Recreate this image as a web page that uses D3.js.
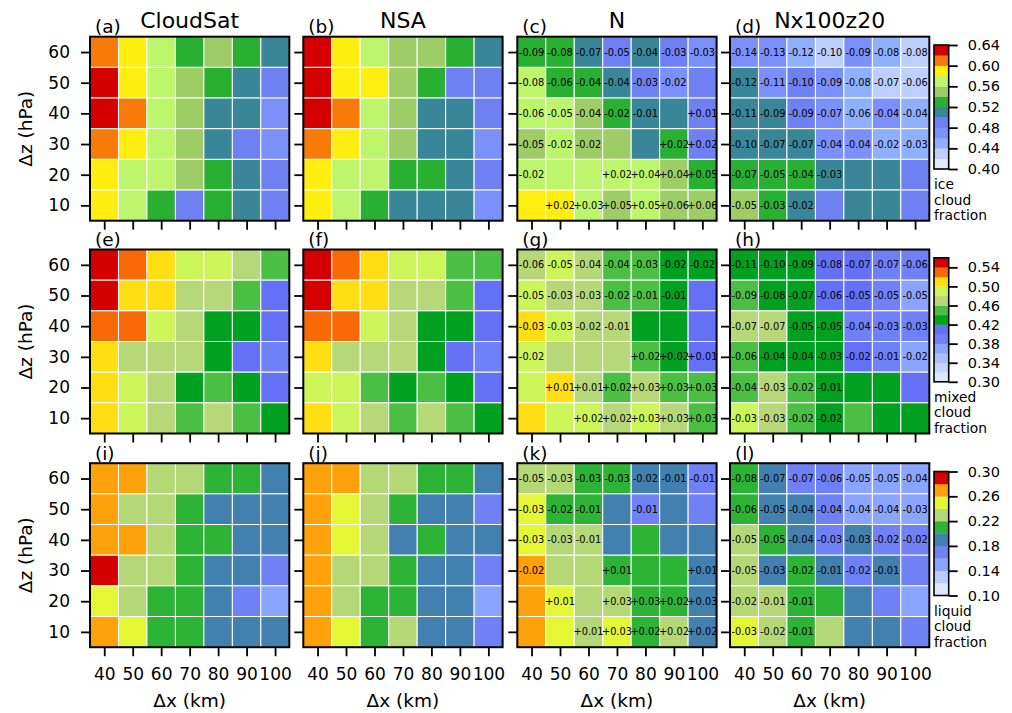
<!DOCTYPE html>
<html>
<head>
<meta charset="utf-8">
<script src="https://cdn.jsdelivr.net/npm/d3@7"></script>
<style>
  body { margin: 0; background: #fff; }
  svg { display: block; font-family: "DejaVu Sans", sans-serif; }
</style>
</head>
<body>
<svg id="chart" width="1012" height="713"></svg>
<script>
// Grid coordinates
const dxValues = [40, 50, 60, 70, 80, 90, 100];      // km, columns
const dzValues = [60, 50, 40, 30, 20, 10];           // hPa, rows from top

const panelTitles = ["CloudSat", "NSA", "N", "Nx100z20"];
const panelTags = [["(a)", "(b)", "(c)", "(d)"], ["(e)", "(f)", "(g)", "(h)"], ["(i)", "(j)", "(k)", "(l)"]];

// ---------- ice cloud fraction ----------
const iceCloudSat = [
  [0.61, 0.59, 0.57, 0.53, 0.55, 0.53, 0.51],
  [0.63, 0.59, 0.57, 0.55, 0.53, 0.51, 0.49],
  [0.63, 0.61, 0.57, 0.55, 0.51, 0.51, 0.47],
  [0.61, 0.59, 0.57, 0.55, 0.51, 0.49, 0.47],
  [0.59, 0.57, 0.57, 0.55, 0.53, 0.51, 0.49],
  [0.59, 0.57, 0.53, 0.49, 0.53, 0.51, 0.49]
];
const iceNSA = [
  [0.63, 0.59, 0.57, 0.55, 0.55, 0.53, 0.51],
  [0.63, 0.59, 0.59, 0.55, 0.53, 0.49, 0.49],
  [0.63, 0.61, 0.57, 0.55, 0.51, 0.51, 0.49],
  [0.61, 0.59, 0.57, 0.55, 0.51, 0.51, 0.47],
  [0.59, 0.57, 0.57, 0.53, 0.53, 0.51, 0.49],
  [0.59, 0.57, 0.53, 0.51, 0.51, 0.51, 0.47]
];
const iceN = [
  [0.53, 0.53, 0.51, 0.49, 0.51, 0.49, 0.47],
  [0.57, 0.53, 0.53, 0.51, 0.49, 0.47, 0.49],
  [0.57, 0.57, 0.55, 0.53, 0.51, 0.51, 0.49],
  [0.55, 0.57, 0.55, 0.55, 0.51, 0.53, 0.49],
  [0.57, 0.57, 0.57, 0.57, 0.57, 0.55, 0.53],
  [0.59, 0.59, 0.57, 0.55, 0.57, 0.55, 0.55]
];
const iceNx100z20 = [
  [0.47, 0.47, 0.45, 0.43, 0.47, 0.45, 0.43],
  [0.51, 0.47, 0.49, 0.47, 0.45, 0.43, 0.43],
  [0.51, 0.51, 0.49, 0.47, 0.45, 0.47, 0.45],
  [0.51, 0.51, 0.51, 0.47, 0.47, 0.45, 0.45],
  [0.53, 0.53, 0.53, 0.51, 0.51, 0.51, 0.49],
  [0.55, 0.53, 0.51, 0.49, 0.51, 0.51, 0.49]
];
// differences from CloudSat written in the cells (null = no label)
const iceNDiff = [
  [-0.09, -0.08, -0.07, -0.05, -0.04, -0.03, -0.03],
  [-0.08, -0.06, -0.04, -0.04, -0.03, -0.02, null],
  [-0.06, -0.05, -0.04, -0.02, -0.01, null, 0.01],
  [-0.05, -0.02, -0.02, null, null, 0.02, 0.02],
  [-0.02, null, null, 0.02, 0.04, 0.04, 0.05],
  [null, 0.02, 0.03, 0.05, 0.05, 0.06, 0.06]
];
const iceNx100z20Diff = [
  [-0.14, -0.13, -0.12, -0.10, -0.09, -0.08, -0.08],
  [-0.12, -0.11, -0.10, -0.09, -0.08, -0.07, -0.06],
  [-0.11, -0.09, -0.09, -0.07, -0.06, -0.04, -0.04],
  [-0.10, -0.07, -0.07, -0.04, -0.04, -0.02, -0.03],
  [-0.07, -0.05, -0.04, -0.03, null, null, null],
  [-0.05, -0.03, -0.02, null, null, null, null]
];
const iceColors = ["#dfe9ff", "#bccfff", "#8eb0ff", "#7b90fa", "#6f80f2", "#398699",
                   "#29b033", "#9ecc66", "#bdf56c", "#ffee10", "#f77b08", "#d40000"];
const iceRange = [0.40, 0.64];
const iceTicks = [0.40, 0.44, 0.48, 0.52, 0.56, 0.60, 0.64];

// ---------- mixed cloud fraction ----------
const mixedCloudSat = [
  [0.55, 0.53, 0.51, 0.49, 0.49, 0.47, 0.45],
  [0.55, 0.51, 0.51, 0.47, 0.47, 0.45, 0.41],
  [0.53, 0.53, 0.49, 0.47, 0.43, 0.43, 0.41],
  [0.51, 0.47, 0.47, 0.47, 0.43, 0.41, 0.39],
  [0.51, 0.49, 0.47, 0.43, 0.45, 0.43, 0.41],
  [0.51, 0.49, 0.47, 0.45, 0.47, 0.45, 0.43]
];
const mixedNSA = [
  [0.55, 0.53, 0.51, 0.49, 0.49, 0.45, 0.45],
  [0.55, 0.51, 0.51, 0.47, 0.47, 0.45, 0.41],
  [0.53, 0.53, 0.49, 0.47, 0.43, 0.43, 0.41],
  [0.51, 0.47, 0.47, 0.47, 0.43, 0.41, 0.39],
  [0.49, 0.49, 0.45, 0.43, 0.45, 0.43, 0.41],
  [0.51, 0.49, 0.47, 0.45, 0.47, 0.45, 0.43]
];
const mixedN = [
  [0.47, 0.49, 0.47, 0.45, 0.45, 0.43, 0.43],
  [0.49, 0.47, 0.47, 0.45, 0.45, 0.43, 0.41],
  [0.51, 0.49, 0.47, 0.47, 0.43, 0.43, 0.41],
  [0.49, 0.47, 0.47, 0.47, 0.45, 0.43, 0.41],
  [0.49, 0.51, 0.47, 0.45, 0.47, 0.45, 0.45],
  [0.51, 0.49, 0.49, 0.47, 0.49, 0.47, 0.45]
];
const mixedNx100z20 = [
  [0.43, 0.43, 0.43, 0.41, 0.41, 0.39, 0.39],
  [0.45, 0.43, 0.43, 0.41, 0.41, 0.39, 0.37],
  [0.47, 0.47, 0.43, 0.43, 0.39, 0.39, 0.39],
  [0.45, 0.43, 0.43, 0.43, 0.41, 0.39, 0.37],
  [0.45, 0.47, 0.45, 0.43, 0.43, 0.43, 0.41],
  [0.49, 0.47, 0.45, 0.43, 0.45, 0.43, 0.43]
];
const mixedNDiff = [
  [-0.06, -0.05, -0.04, -0.04, -0.03, -0.02, -0.02],
  [-0.05, -0.03, -0.03, -0.02, -0.01, -0.01, null],
  [-0.03, -0.03, -0.02, -0.01, null, null, null],
  [-0.02, null, null, null, 0.02, 0.02, 0.01],
  [null, 0.01, 0.01, 0.02, 0.03, 0.03, 0.03],
  [null, null, 0.02, 0.02, 0.03, 0.03, 0.03]
];
const mixedNx100z20Diff = [
  [-0.11, -0.10, -0.09, -0.08, -0.07, -0.07, -0.06],
  [-0.09, -0.08, -0.07, -0.06, -0.05, -0.05, -0.05],
  [-0.07, -0.07, -0.05, -0.05, -0.04, -0.03, -0.03],
  [-0.06, -0.04, -0.04, -0.03, -0.02, -0.01, -0.02],
  [-0.04, -0.03, -0.02, -0.01, null, null, null],
  [-0.03, -0.03, -0.02, -0.02, null, null, null]
];
const mixedColors = ["#dde8ff", "#c5d5ff", "#a8c0ff", "#8aa5ff", "#7080f8", "#6470f5", "#00a020",
                     "#4abf44", "#b6d878", "#ccf55a", "#ffde14", "#f86a08", "#d40000"];
const mixedRange = [0.30, 0.56];
const mixedTicks = [0.30, 0.34, 0.38, 0.42, 0.46, 0.50, 0.54];

// ---------- liquid cloud fraction ----------
const liquidCloudSat = [
  [0.27, 0.27, 0.23, 0.23, 0.21, 0.21, 0.19],
  [0.27, 0.23, 0.23, 0.21, 0.19, 0.19, 0.19],
  [0.27, 0.27, 0.23, 0.21, 0.21, 0.19, 0.19],
  [0.29, 0.23, 0.23, 0.21, 0.19, 0.19, 0.17],
  [0.25, 0.23, 0.21, 0.21, 0.19, 0.17, 0.15],
  [0.27, 0.25, 0.21, 0.21, 0.19, 0.19, 0.19]
];
const liquidNSA = [
  [0.27, 0.27, 0.23, 0.23, 0.21, 0.21, 0.19],
  [0.27, 0.25, 0.23, 0.21, 0.19, 0.19, 0.17],
  [0.27, 0.25, 0.23, 0.19, 0.21, 0.19, 0.19],
  [0.27, 0.23, 0.23, 0.21, 0.19, 0.19, 0.17],
  [0.27, 0.23, 0.21, 0.21, 0.19, 0.19, 0.15],
  [0.27, 0.25, 0.21, 0.23, 0.19, 0.19, 0.17]
];
const liquidN = [
  [0.23, 0.23, 0.21, 0.21, 0.19, 0.19, 0.17],
  [0.25, 0.21, 0.21, 0.19, 0.17, 0.19, 0.17],
  [0.25, 0.23, 0.23, 0.19, 0.21, 0.19, 0.19],
  [0.27, 0.23, 0.23, 0.21, 0.21, 0.21, 0.19],
  [0.27, 0.25, 0.23, 0.23, 0.21, 0.21, 0.19],
  [0.27, 0.25, 0.23, 0.25, 0.21, 0.23, 0.19]
];
const liquidNx100z20 = [
  [0.21, 0.19, 0.17, 0.17, 0.15, 0.15, 0.15],
  [0.21, 0.19, 0.19, 0.17, 0.15, 0.15, 0.15],
  [0.23, 0.21, 0.19, 0.17, 0.19, 0.17, 0.17],
  [0.23, 0.19, 0.21, 0.19, 0.17, 0.19, 0.17],
  [0.23, 0.23, 0.21, 0.21, 0.19, 0.17, 0.15],
  [0.25, 0.23, 0.21, 0.23, 0.19, 0.19, 0.17]
];
const liquidNDiff = [
  [-0.05, -0.03, -0.03, -0.03, -0.02, -0.01, -0.01],
  [-0.03, -0.02, -0.01, null, -0.01, null, null],
  [-0.03, -0.03, -0.01, null, null, null, null],
  [-0.02, null, null, 0.01, null, null, 0.01],
  [null, 0.01, null, 0.03, 0.03, 0.02, 0.03],
  [null, null, 0.01, 0.03, 0.02, 0.02, 0.02]
];
const liquidNx100z20Diff = [
  [-0.08, -0.07, -0.07, -0.06, -0.05, -0.05, -0.04],
  [-0.06, -0.05, -0.04, -0.04, -0.04, -0.04, -0.03],
  [-0.05, -0.05, -0.04, -0.03, -0.03, -0.02, -0.02],
  [-0.05, -0.03, -0.02, -0.01, -0.02, -0.01, null],
  [-0.02, -0.01, -0.01, null, null, null, null],
  [-0.03, -0.02, -0.01, null, null, null, null]
];
const liquidColors = ["#dde8ff", "#b8ccff", "#8aa5ff", "#7080f5", "#4280b0",
                      "#2db336", "#b5d877", "#e4f735", "#ffa10a", "#d40000"];
const liquidRange = [0.10, 0.30];
const liquidTicks = [0.10, 0.14, 0.18, 0.22, 0.26, 0.30];

// ---------- figure rows ----------
const figureRows = [
  { grids: [iceCloudSat, iceNSA, iceN, iceNx100z20], diffs: [null, null, iceNDiff, iceNx100z20Diff],
    colors: iceColors, range: iceRange, ticks: iceTicks, name: ["ice", "cloud", "fraction"] },
  { grids: [mixedCloudSat, mixedNSA, mixedN, mixedNx100z20], diffs: [null, null, mixedNDiff, mixedNx100z20Diff],
    colors: mixedColors, range: mixedRange, ticks: mixedTicks, name: ["mixed", "cloud", "fraction"] },
  { grids: [liquidCloudSat, liquidNSA, liquidN, liquidNx100z20], diffs: [null, null, liquidNDiff, liquidNx100z20Diff],
    colors: liquidColors, range: liquidRange, ticks: liquidTicks, name: ["liquid", "cloud", "fraction"] }
];

// ---------- layout ----------
const panelW = 199.3, panelH = 184;
const colLeft = [90, 303.3, 517.3, 730];
const rowTop = [36.7, 249.5, 463.2];
const tickLen = 9;

const svg = d3.select("#chart");
svg.append("rect").attr("width", 1012).attr("height", 713).attr("fill", "#fff");

const fmtDiff = v => (v > 0 ? "+" : "-") + Math.abs(v).toFixed(2);

figureRows.forEach((row, r) => {
  const n = row.colors.length;
  const step = (row.range[1] - row.range[0]) / n;
  const edges = d3.range(1, n).map(i => row.range[0] + i * step);
  const color = d3.scaleThreshold().domain(edges).range(row.colors);

  row.grids.forEach((grid, c) => {
    const left = colLeft[c], top = rowTop[r];
    const x = d3.scaleLinear().domain([35, 105]).range([left, left + panelW]);
    const y = d3.scaleLinear().domain([5, 65]).range([top + panelH, top]);
    const g = svg.append("g");

    const cells = [];
    grid.forEach((vals, i) => vals.forEach((v, j) => {
      const d = row.diffs[c];
      cells.push({ dx: dxValues[j], dz: dzValues[i], v, diff: d ? d[i][j] : null });
    }));

    g.selectAll("rect.cell").data(cells).join("rect")
      .attr("class", "cell")
      .attr("x", d => x(d.dx - 5))
      .attr("y", d => y(d.dz + 5))
      .attr("width", d => x(d.dx + 5) - x(d.dx - 5))
      .attr("height", d => y(d.dz - 5) - y(d.dz + 5))
      .attr("fill", d => color(d.v))
      .attr("stroke", "#fff")
      .attr("stroke-width", 1);

    g.selectAll("text.diff").data(cells.filter(d => d.diff !== null)).join("text")
      .attr("class", "diff")
      .attr("x", d => x(d.dx))
      .attr("y", d => y(d.dz))
      .attr("dy", "0.36em")
      .attr("text-anchor", "middle")
      .attr("font-size", 9.8)
      .attr("fill", "#000")
      .text(d => fmtDiff(d.diff));

    // axes
    const yAxis = d3.axisLeft(y).tickValues(dzValues).tickSize(tickLen).tickPadding(11)
      .tickFormat(c === 0 ? d3.format("d") : () => "");
    const ya = g.append("g").attr("transform", `translate(${left},0)`).call(yAxis);
    const xAxis = d3.axisBottom(x).tickValues(dxValues).tickSize(tickLen).tickPadding(11.5)
      .tickFormat(r === 2 ? d3.format("d") : () => "");
    const xa = g.append("g").attr("transform", `translate(0,${top + panelH})`).call(xAxis);
    [ya, xa].forEach(a => {
      a.select(".domain").remove();
      a.attr("font-family", "DejaVu Sans, sans-serif").attr("font-size", 17);
      a.selectAll(".tick line").attr("stroke", "#000").attr("stroke-width", 1.8);
      a.selectAll(".tick text").attr("fill", "#000");
    });

    // frame
    g.append("rect").attr("x", left).attr("y", top).attr("width", panelW).attr("height", panelH)
      .attr("fill", "none").attr("stroke", "#000").attr("stroke-width", 2);

    // panel tag
    g.append("text").attr("x", left + 5).attr("y", top - 3.3)
      .attr("font-size", 18.5).attr("fill", "#000").text(panelTags[r][c]);

    if (r === 0) {
      g.append("text").attr("x", left + panelW / 2).attr("y", 27.5)
        .attr("text-anchor", "middle").attr("font-size", 22).attr("fill", "#000")
        .text(panelTitles[c]);
    }
    if (c === 0) {
      g.append("text")
        .attr("transform", `translate(31.5,${top + panelH / 2}) rotate(-90)`)
        .attr("text-anchor", "middle").attr("font-size", 18.5).attr("fill", "#000")
        .text("Δz (hPa)");
    }
    if (r === 2) {
      g.append("text").attr("x", left + panelW / 2).attr("y", 707)
        .attr("text-anchor", "middle").attr("font-size", 18.5).attr("fill", "#000")
        .text("Δx (km)");
    }
  });

  // colour bar
  const cbLeft = 934, cbW = 14.7, cbTop = rowTop[r] + 8.3, cbH = 124;
  const cy = d3.scaleLinear().domain(row.range).range([cbTop + cbH, cbTop]);
  const cb = svg.append("g");
  const bins = row.colors.map((col, i) => ({ lo: row.range[0] + i * step, hi: row.range[0] + (i + 1) * step, col }));
  cb.selectAll("rect.bin").data(bins).join("rect")
    .attr("class", "bin")
    .attr("x", cbLeft).attr("width", cbW)
    .attr("y", d => cy(d.hi)).attr("height", d => cy(d.lo) - cy(d.hi) + 0.3)
    .attr("fill", d => d.col);
  cb.append("rect").attr("x", cbLeft).attr("y", cbTop).attr("width", cbW).attr("height", cbH)
    .attr("fill", "none").attr("stroke", "#000").attr("stroke-width", 1.6);
  const cAxis = d3.axisRight(cy).tickValues(row.ticks).tickSize(9).tickPadding(10)
    .tickFormat(d3.format(".2f"));
  const ca = cb.append("g").attr("transform", `translate(${cbLeft + cbW},0)`).call(cAxis);
  ca.select(".domain").remove();
  ca.attr("font-family", "DejaVu Sans, sans-serif").attr("font-size", 14.5);
  ca.selectAll(".tick line").attr("stroke", "#000").attr("stroke-width", 1.8);
  ca.selectAll(".tick text").attr("fill", "#000");

  cb.append("text").attr("font-size", 13.8).attr("fill", "#000")
    .selectAll("tspan").data(row.name).join("tspan")
    .attr("x", cbLeft).attr("y", (d, i) => cbTop + cbH + 20 + i * 15.5)
    .text(d => d);
});
</script>
</body>
</html>
